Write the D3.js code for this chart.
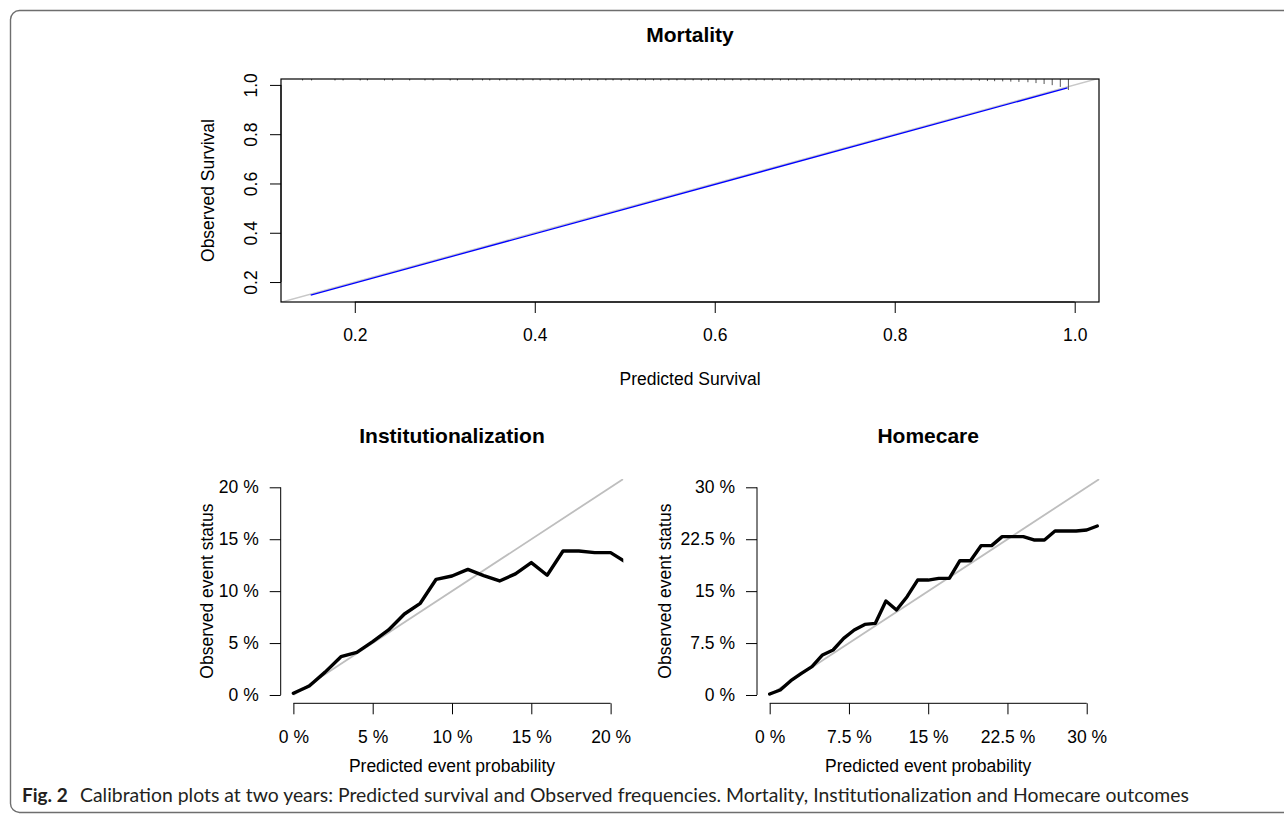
<!DOCTYPE html>
<meta charset="utf-8">
<style>

    body {
        margin: 0;
        background: #fff;
    }

    svg text {
        font-family: "Liberation Sans", Arial, Helvetica, sans-serif;
        fill: #000;
    }

    .caption text {
        font-family: Lato, "Open Sans", sans-serif;
        fill: #231f20;
    }

</style>
<svg width="1284" height="816"></svg>
<script src="https://d3js.org/d3.v7.min.js"></script>
<script>
    // Mortality: predicted vs observed survival (calibration curve)
    var mortPred = [0.151, 0.992];
    var mortObs = [0.147, 0.988];
    var mortTicks = [0.2, 0.4, 0.6, 0.8, 1.0];

    // spike histogram of predicted survival along the top of the mortality plot
    var rugPred = [0.142, 0.152, 0.178, 0.187, 0.206, 0.214, 0.233, 0.242, 0.261, 0.278, 0.287, 0.306,
        0.314, 0.331, 0.342, 0.350, 0.361, 0.369, 0.380, 0.387, 0.398, 0.406, 0.417, 0.426, 0.434, 0.443,
        0.452, 0.461, 0.470, 0.479, 0.487, 0.496, 0.505, 0.514, 0.523, 0.532, 0.540, 0.549, 0.558, 0.567,
        0.576, 0.585, 0.593, 0.602, 0.611, 0.620, 0.629, 0.638, 0.646, 0.655, 0.664, 0.673, 0.682, 0.691,
        0.699, 0.708, 0.717, 0.726, 0.735, 0.744, 0.752, 0.761, 0.770, 0.779, 0.788, 0.797, 0.805, 0.814,
        0.823, 0.832, 0.841, 0.850, 0.858, 0.867, 0.876, 0.885, 0.894, 0.903, 0.911, 0.920, 0.929, 0.938,
        0.948, 0.957, 0.966, 0.975, 0.984, 0.993];
    var rugCount = [1, 1, 1, 1, 1, 1, 1, 1, 1, 1, 1, 1,
        1, 1, 1, 1, 1, 1, 1, 1, 1, 1, 1, 1, 1, 1,
        1, 1, 1, 1, 1, 1, 1, 1, 1, 1, 1, 1, 1, 1,
        1, 1, 1, 1, 1, 1, 1, 1, 1, 1, 1, 1, 1, 1,
        1, 1, 1, 1, 1, 1, 1, 1, 1, 1, 1, 1, 1, 1,
        1, 1, 1, 1, 1, 1, 1, 1, 1.2, 1.4, 1.5, 1.6, 1.8, 2,
        2.2, 2.8, 3.4, 4.2, 5.4, 7.5];

    // Institutionalization (percent)
    var instPred = [0, 1, 2, 3, 4, 5, 6, 7, 8, 9, 10, 11, 12, 13, 14, 15, 16, 17, 18, 19, 20, 21];
    var instObs = [0.16, 0.87, 2.2, 3.69, 4.11, 5.14, 6.26, 7.8, 8.83, 11.14, 11.46, 12.1, 11.5, 10.98,
        11.66, 12.75, 11.53, 13.87, 13.87, 13.71, 13.71, 12.75];
    var instTicks = [0, 5, 10, 15, 20];

    // Homecare (percent)
    var homePred = [0, 1, 2, 3, 4, 5, 6, 7, 8, 9, 10, 11, 12, 13, 14, 15, 16, 17, 18, 19, 20, 21, 22, 23,
        24, 25, 26, 27, 28, 29, 30, 31];
    var homeObs = [0.14, 0.72, 2.07, 3.13, 4.09, 5.78, 6.5, 8.18, 9.39, 10.2, 10.35, 13.58, 12.28, 14.2,
        16.6, 16.6, 16.85, 16.85, 19.4, 19.4, 21.57, 21.57, 22.87, 22.87, 22.87, 22.39, 22.39, 23.69,
        23.69, 23.69, 23.83, 24.41];
    var homeTicks = [0, 7.5, 15, 22.5, 30];

    var svg = d3.select("svg");
    var defs = svg.append("defs");

    // journal figure frame
    svg.append("rect")
        .attr("x", 10.5).attr("y", 10.5)
        .attr("width", 1300).attr("height", 802)
        .attr("rx", 9)
        .style("fill", "none")
        .style("stroke", "#6e6e6e")
        .style("stroke-width", 1.4);

    var fontSize = 17.5;

    // R-like axis: ticks only, axis line spanning first to last tick
    function rAxis(g, orient, scale, ticks, fmt, pos) {
        var axis = (orient === "bottom" ? d3.axisBottom(scale) : d3.axisLeft(scale))
            .tickValues(ticks)
            .tickSize(11)
            .tickPadding(orient === "bottom" ? 16 : 11)
            .tickFormat(fmt);
        var a = g.append("g")
            .attr("transform", orient === "bottom" ? "translate(0," + pos + ")" : "translate(" + pos + ",0)")
            .call(axis);
        a.attr("font-family", null).attr("font-size", null);
        a.select(".domain").remove();
        a.selectAll(".tick line").style("stroke", "#000");
        a.selectAll(".tick text").style("font-size", fontSize + "px");
        var r0 = scale(ticks[0]), r1 = scale(ticks[ticks.length - 1]);
        a.append("line")
            .attr(orient === "bottom" ? "x1" : "y1", r0)
            .attr(orient === "bottom" ? "x2" : "y2", r1)
            .style("stroke", "#000");
        return a;
    }

    function label(g, text, x, y, rotate, bold) {
        g.append("text")
            .attr("transform", "translate(" + x + "," + y + ")" + (rotate ? " rotate(-90)" : ""))
            .attr("text-anchor", "middle")
            .style("font-size", (bold ? 21 : fontSize) + "px")
            .style("font-weight", bold ? "bold" : null)
            .text(text);
    }

    // ---------- Mortality ----------
    var mbox = {left: 281, right: 1099, top: 79, bottom: 302};
    var mx = d3.scaleLinear().domain([0.118, 1.027]).range([mbox.left, mbox.right]);
    var my = d3.scaleLinear().domain([0.119, 1.024]).range([mbox.bottom, mbox.top]);

    var gm = svg.append("g");

    defs.append("clipPath").attr("id", "clipM")
        .append("rect").attr("x", mbox.left).attr("y", mbox.top)
        .attr("width", mbox.right - mbox.left).attr("height", mbox.bottom - mbox.top);

    gm.append("line")
        .attr("clip-path", "url(#clipM)")
        .attr("x1", mx(0)).attr("y1", my(0))
        .attr("x2", mx(1.1)).attr("y2", my(1.1))
        .style("stroke", "#c8c8c8")
        .style("stroke-width", 1.5);

    var spike = d3.scaleLinear().domain([0, d3.max(rugCount)]).range([0, 11]);
    gm.append("g").selectAll("line")
        .data(rugPred)
        .enter().append("line")
        .attr("x1", function (d) { return mx(d); })
        .attr("x2", function (d) { return mx(d); })
        .attr("y1", mbox.top)
        .attr("y2", function (d, i) { return mbox.top + spike(rugCount[i]); })
        .style("stroke", "#555")
        .style("stroke-width", 1);

    gm.append("path")
        .datum(mortPred.map(function (d, i) { return [d, mortObs[i]]; }))
        .attr("d", d3.line().x(function (d) { return mx(d[0]); }).y(function (d) { return my(d[1]); }))
        .style("fill", "none")
        .style("stroke", "#0000ff")
        .style("stroke-width", 1.3);

    gm.append("rect")
        .attr("x", mbox.left).attr("y", mbox.top)
        .attr("width", mbox.right - mbox.left).attr("height", mbox.bottom - mbox.top)
        .style("fill", "none")
        .style("stroke", "#000")
        .style("stroke-width", 1.2);

    rAxis(gm, "bottom", mx, mortTicks, d3.format(".1f"), mbox.bottom);
    var yax = rAxis(gm, "left", my, mortTicks, d3.format(".1f"), mbox.left);
    yax.selectAll(".tick text")
        .attr("x", null).attr("dy", null)
        .attr("text-anchor", "middle")
        .attr("transform", "translate(-24,0) rotate(-90)");

    label(gm, "Mortality", (mbox.left + mbox.right) / 2, 42, false, true);
    label(gm, "Predicted Survival", (mbox.left + mbox.right) / 2, 385, false, false);
    label(gm, "Observed Survival", 214, (mbox.top + mbox.bottom) / 2, true, false);

    // ---------- small calibration panels ----------
    function panel(id, title, pred, obs, ticks, lim, box, ylabX) {
        var x = d3.scaleLinear().domain(lim).range([box.left, box.right]);
        var y = d3.scaleLinear().domain(lim).range([box.bottom, box.top]);
        var g = svg.append("g");

        defs.append("clipPath").attr("id", id)
            .append("rect").attr("x", box.left).attr("y", box.top)
            .attr("width", box.right - box.left).attr("height", box.bottom - box.top);

        // ideal calibration line from the origin
        g.append("line")
            .attr("clip-path", "url(#" + id + ")")
            .attr("x1", x(0)).attr("y1", y(0))
            .attr("x2", x(lim[1])).attr("y2", y(lim[1]))
            .style("stroke", "#bebebe")
            .style("stroke-width", 1.8);

        g.append("path")
            .attr("clip-path", "url(#" + id + ")")
            .datum(pred.map(function (d, i) { return [d, obs[i]]; }))
            .attr("d", d3.line().x(function (d) { return x(d[0]); }).y(function (d) { return y(d[1]); }))
            .style("fill", "none")
            .style("stroke", "#000")
            .style("stroke-width", 3.4)
            .style("stroke-linejoin", "round")
            .style("stroke-linecap", "round");

        var fmt = function (d) { return d + " %"; };
        rAxis(g, "bottom", x, ticks, fmt, box.bottom);
        rAxis(g, "left", y, ticks, fmt, box.left);

        var cx = (box.left + box.right) / 2;
        label(g, title, cx, 443, false, true);
        label(g, "Predicted event probability", cx, 772, false, false);
        label(g, "Observed event status", ylabX, (box.top + box.bottom) / 2, true, false);
    }

    panel("clipI", "Institutionalization", instPred, instObs, instTicks, [-0.8, 20.8],
        {left: 280.7, right: 623.3, top: 479, bottom: 703.3}, 213);
    panel("clipH", "Homecare", homePred, homeObs, homeTicks, [-1.2, 31.2],
        {left: 757, right: 1099.4, top: 479, bottom: 703.3}, 670.5);

    // ---------- caption ----------
    var cap = svg.append("g").attr("class", "caption");
    cap.append("text")
        .attr("x", 22).attr("y", 802)
        .style("font-size", "19px")
        .style("font-weight", "bold")
        .text("Fig. 2");
    var capText = cap.append("text")
        .attr("x", 80).attr("y", 802)
        .style("font-size", "19px")
        .text("Calibration plots at two years: Predicted survival and Observed frequencies. Mortality, Institutionalization and Homecare outcomes");
    var w = capText.node().getComputedTextLength();
    capText.style("font-size", (19 * 1110 / w) + "px");

</script>
